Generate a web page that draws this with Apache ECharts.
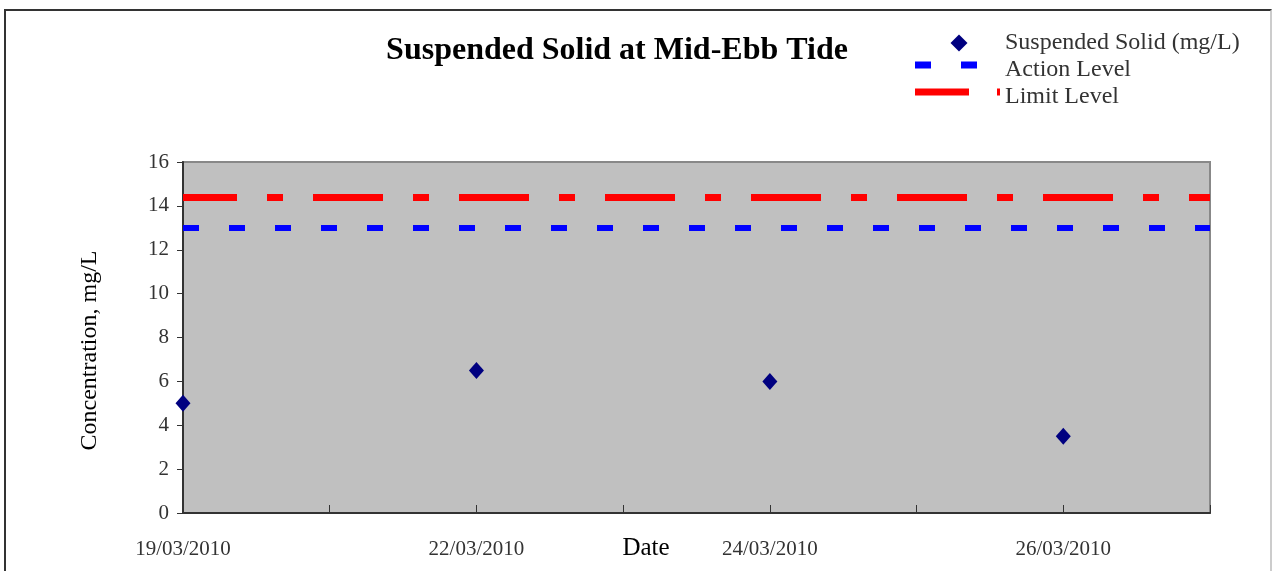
<!DOCTYPE html>
<html>
<head>
<meta charset="utf-8">
<script src="https://cdn.jsdelivr.net/npm/echarts@6/dist/echarts.min.js"></script>
<style>
  html, body { margin: 0; padding: 0; background: #fff; }
  #chart { width: 1272px; height: 571px; }
  #frame { position: absolute; left: 4px; top: 9px; width: 1264px; height: 580px;
           border: 2px solid #333; border-right-color: #ccc; pointer-events: none; }
</style>
</head>
<body>
<div id="chart"></div>
<div id="frame"></div>
<script>
// tick labels along the date axis (blank ones are unlabelled ticks)
const dates = ['19/03/2010', '', '22/03/2010', '', '24/03/2010', '', '26/03/2010', ''];
// suspended solid readings, mg/L
const solids = [5, null, 6.5, null, 6, null, 3.5, null];
const actionLevel = 13;
const limitLevel = 14.4;

const serif = '"Liberation Serif", "DejaVu Serif", serif';
const chart = echarts.init(document.getElementById('chart'));

// legend icons drawn in an 85x17 box (the two zero-length moves fix the box size)
const box = 'M0,0L0,0M85,17L85,17';
const iconSolid = 'path://' + box + 'M44,0L52.5,8.5L44,17L35.5,8.5Z';
const iconAction = 'path://' + box + 'M0,0h16v7h-16zM46,0h16v7h-16z';
const iconLimit = 'path://' + box + 'M0,0h54v7h-54zM82,0h3v7h-3z';

const option = {
    backgroundColor: '#fff',
    title: [
        {
            text: 'Suspended Solid at Mid-Ebb Tide',
            left: 612, top: 30, textAlign: 'center',
            textStyle: { fontFamily: serif, fontSize: 32, fontWeight: 'bold', color: '#000' }
        },
        {
            text: 'Date',
            left: 641, top: 531, textAlign: 'center',
            textStyle: { fontFamily: serif, fontSize: 25, fontWeight: 'normal', color: '#000' }
        }
    ],
    legend: {
        orient: 'vertical',
        left: 910, top: 26,
        itemWidth: 85, itemHeight: 17, itemGap: 3,
        itemStyle: { borderWidth: 0 },
        textStyle: { fontFamily: serif, fontSize: 24, lineHeight: 24, color: '#333' },
        data: [
            { name: 'Suspended Solid (mg/L)', icon: iconSolid },
            { name: 'Action Level', icon: iconAction },
            { name: 'Limit Level', icon: iconLimit }
        ]
    },
    grid: {
        left: 183, right: 62, top: 162, bottom: 58,
        show: true, backgroundColor: '#c0c0c0', borderColor: '#888', borderWidth: 2
    },
    xAxis: {
        type: 'category',
        data: dates,
        boundaryGap: false,
        axisLine: { lineStyle: { color: '#333', width: 2 } },
        axisTick: { show: true, inside: true, length: 8, interval: 0, lineStyle: { color: '#333' } },
        axisLabel: { interval: 0, margin: 26, fontFamily: serif, fontSize: 21, color: '#333' },
        splitLine: { show: false }
    },
    yAxis: {
        type: 'value',
        min: 0, max: 16, interval: 2,
        name: 'Concentration, mg/L',
        nameLocation: 'middle',
        nameGap: 81,
        nameTextStyle: { fontFamily: serif, fontSize: 24, color: '#000', padding: [0, 26, 0, 0] },
        axisLine: { show: true, lineStyle: { color: '#333', width: 2 } },
        axisTick: { show: true, length: 6, lineStyle: { color: '#333' } },
        axisLabel: { margin: 14, fontFamily: serif, fontSize: 21, color: '#333' },
        splitLine: { show: false }
    },
    series: [
        {
            name: 'Suspended Solid (mg/L)',
            type: 'scatter',
            data: solids,
            symbol: 'diamond',
            symbolSize: [15, 17],
            itemStyle: { color: '#000080', opacity: 1 },
            z: 5
        },
        {
            name: 'Action Level',
            type: 'line',
            data: [],
            symbol: 'none',
            itemStyle: { color: '#0000ff' },
            markLine: {
                silent: true, symbol: 'none', label: { show: false },
                lineStyle: { color: '#0000ff', width: 6, type: [16, 30] },
                data: [{ yAxis: actionLevel }]
            }
        },
        {
            name: 'Limit Level',
            type: 'line',
            data: [],
            symbol: 'none',
            itemStyle: { color: '#ff0000' },
            markLine: {
                silent: true, symbol: 'none', label: { show: false },
                lineStyle: { color: '#ff0000', width: 7, type: [70, 30, 16, 30], dashOffset: 16 },
                data: [{ yAxis: limitLevel }]
            }
        }
    ]
};
chart.setOption(option);
</script>
</body>
</html>
